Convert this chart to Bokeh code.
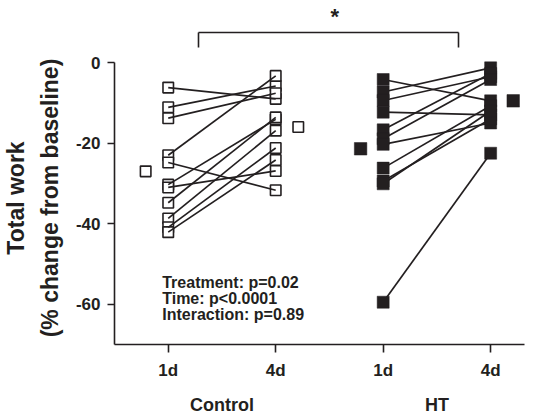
from bokeh.plotting import figure
from bokeh.models import FixedTicker, LinearAxis
from bokeh.core.properties import value
from bokeh.embed import file_html
from bokeh.resources import INLINE

# ---------------- data ----------------
time_labels = ["1d", "4d", "1d", "4d"]
group_labels = ["Control", "HT"]
control_1d = [-6.2, -11.1, -13.8, -23.0, -24.8, -30.3, -31.0, -34.8, -38.7, -40.9, -42.1]
control_4d = [-9.0, -5.8, -7.6, -3.3, -31.7, -14.1, -26.9, -13.6, -16.9, -21.2, -24.2]
ht_1d = [-4.2, -7.3, -9.4, -12.3, -16.7, -18.9, -20.3, -26.2, -29.4, -30.1, -59.5]
ht_4d = [-9.5, -1.3, -3.5, -13.0, -2.7, -4.2, -15.0, -10.7, -14.0, -12.0, -22.5]
control_means = [-27.0, -16.0]
ht_means = [-21.4, -9.5]
y_ticks = [0, -20, -40, -60]
y_label = "Total work\n(% change from baseline)"
stats_lines = ["Treatment: p=0.02", "Time: p<0.0001", "Interaction: p=0.89"]
significance = "*"

# ---------------- styling ----------------
INK = "#231f20"
FONT = "Liberation Sans"
tick_pos = [1, 2, 3, 4]
group_pos = [1.5, 3.5]
mean_offset = 0.21
bracket_ends = [1.284, 3.697]
star_x = 2.55

p = figure(width=540, height=417, x_range=(0.5, 4.315), y_range=(-70, 2.76),
           output_backend="svg", toolbar_location=None,
           min_border_left=113, min_border_right=16, min_border_top=51, min_border_bottom=68)
p.outline_line_color = None
p.xgrid.visible = False
p.ygrid.visible = False
p.background_fill_color = "white"

# y axis
ya = p.yaxis[0]
ya.ticker = FixedTicker(ticks=y_ticks)
ya.major_label_overrides = {t: str(t) for t in y_ticks}
ya.bounds = (-70, 0)
ya.axis_line_color = INK
ya.axis_line_width = 1.6
ya.major_tick_line_color = INK
ya.major_tick_line_width = 1.6
ya.major_tick_in = 0
ya.major_tick_out = 7
ya.minor_tick_line_color = None
ya.major_label_standoff = 7
ya.major_label_text_font = FONT
ya.major_label_text_font_style = "bold"
ya.major_label_text_font_size = "17px"
ya.major_label_text_color = INK
ya.axis_label = y_label
ya.axis_label_text_font = FONT
ya.axis_label_text_font_style = "bold"
ya.axis_label_text_font_size = "23px"
ya.axis_label_text_color = INK
ya.axis_label_text_line_height = 1.3
ya.axis_label_standoff = 10

# x axis (time points)
xa = p.xaxis[0]
xa.ticker = FixedTicker(ticks=tick_pos)
xa.major_label_overrides = {t: l for t, l in zip(tick_pos, time_labels)}
xa.axis_line_color = INK
xa.axis_line_width = 1.6
xa.major_tick_line_color = INK
xa.major_tick_line_width = 1.6
xa.major_tick_in = 0
xa.major_tick_out = 8
xa.minor_tick_line_color = None
xa.major_label_standoff = 8
xa.major_label_text_font = FONT
xa.major_label_text_font_style = "bold"
xa.major_label_text_font_size = "17px"
xa.major_label_text_color = INK

# second x axis (groups)
ga = LinearAxis(ticker=FixedTicker(ticks=group_pos),
                major_label_overrides={t: l for t, l in zip(group_pos, group_labels)})
ga.axis_line_color = None
ga.major_tick_line_color = None
ga.minor_tick_line_color = None
ga.major_tick_in = 0
ga.major_tick_out = 0
ga.major_label_standoff = 12
ga.major_label_text_font = FONT
ga.major_label_text_font_style = "bold"
ga.major_label_text_font_size = "18px"
ga.major_label_text_color = INK
p.add_layout(ga, "below")

# blank spacer axis between the data and the significance bracket
spacer = LinearAxis(ticker=FixedTicker(ticks=[]), axis_label=" ")
spacer.axis_line_color = None
spacer.major_tick_line_color = None
spacer.minor_tick_line_color = None
spacer.major_tick_in = 0
spacer.major_tick_out = 0
spacer.minor_tick_out = 0
spacer.major_label_standoff = 0
spacer.axis_label_standoff = 0
spacer.axis_label_text_font = FONT
spacer.axis_label_text_font_size = "14px"
p.add_layout(spacer, "above")

# significance bracket: an axis with down-turned ends and a star label
sa = LinearAxis(ticker=FixedTicker(ticks=[star_x], minor_ticks=bracket_ends),
                major_label_overrides={star_x: significance},
                bounds=(bracket_ends[0], bracket_ends[1]))
sa.axis_line_color = INK
sa.axis_line_width = 1.6
sa.major_tick_line_color = None
sa.major_tick_in = 0
sa.major_tick_out = 0
sa.minor_tick_line_color = INK
sa.minor_tick_line_width = 1.6
sa.minor_tick_in = 15
sa.minor_tick_out = 0
sa.major_label_standoff = 4
sa.major_label_text_font = FONT
sa.major_label_text_font_style = "bold"
sa.major_label_text_font_size = "22px"
sa.major_label_text_color = INK
p.add_layout(sa, "above")

# control: open squares, lines on top
n = len(control_1d)
p.scatter([tick_pos[0]] * n, control_1d, marker="square", size=10.5,
          fill_color="white", line_color=INK, line_width=1.6)
p.scatter([tick_pos[1]] * n, control_4d, marker="square", size=10.5,
          fill_color="white", line_color=INK, line_width=1.6)
p.segment(x0=[tick_pos[0]] * n, y0=control_1d, x1=[tick_pos[1]] * n, y1=control_4d,
          line_color=INK, line_width=1.7)
p.scatter([tick_pos[0] - mean_offset, tick_pos[1] + mean_offset], control_means,
          marker="square", size=10.5, fill_color="white", line_color=INK, line_width=1.6)

# HT: filled squares
m = len(ht_1d)
p.segment(x0=[tick_pos[2]] * m, y0=ht_1d, x1=[tick_pos[3]] * m, y1=ht_4d,
          line_color=INK, line_width=1.7)
p.scatter([tick_pos[2]] * m, ht_1d, marker="square", size=12,
          fill_color=INK, line_color=INK, line_width=0.5)
p.scatter([tick_pos[3]] * m, ht_4d, marker="square", size=12,
          fill_color=INK, line_color=INK, line_width=0.5)
p.scatter([tick_pos[2] - mean_offset, tick_pos[3] + mean_offset], ht_means,
          marker="square", size=12.5, fill_color=INK, line_color=INK, line_width=0.5)

# stats text
stat_y0, stat_step = -54.6, 3.95
p.text(x=[0.944] * len(stats_lines), y=[stat_y0 - i * stat_step for i in range(len(stats_lines))],
       text=stats_lines, text_font=value(FONT), text_font_style="bold",
       text_font_size="16px", text_color=INK, text_align="left", text_baseline="alphabetic")

open("out.html", "w").write(file_html(p, INLINE))
